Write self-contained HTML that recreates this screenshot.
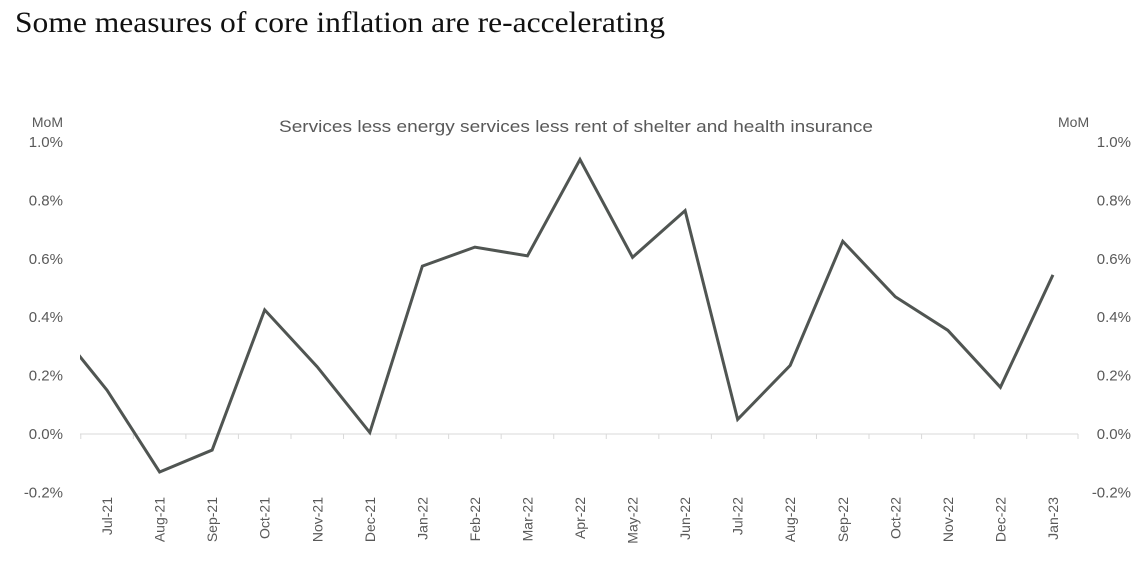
<!DOCTYPE html>
<html><head><meta charset="utf-8"><style>
html,body{margin:0;padding:0;background:#fff;width:1146px;height:569px;overflow:hidden}
svg text{font-family:"Liberation Sans",sans-serif}
</style></head><body>
<svg width="1146" height="569">
<text x="15" y="32" font-size="30" fill="#111" textLength="650" lengthAdjust="spacingAndGlyphs" style="font-family:'Liberation Serif',serif">Some measures of  core inflation are re-accelerating</text>
<text x="576" y="132" font-size="17" fill="#595959" text-anchor="middle" textLength="594" lengthAdjust="spacingAndGlyphs">Services less energy services less rent of shelter and health insurance</text>
<text x="63" y="127" font-size="14" fill="#595959" text-anchor="end">MoM</text>
<text x="1058" y="127" font-size="14" fill="#595959">MoM</text>
<g id="ax"></g>
<defs><clipPath id="cp"><rect x="80" y="100" width="1000" height="420"/></clipPath></defs>
<g id="plot" clip-path="url(#cp)"></g>
</svg>
<script>
const categories=["Jun-21","Jul-21","Aug-21","Sep-21","Oct-21","Nov-21","Dec-21","Jan-22","Feb-22","Mar-22","Apr-22","May-22","Jun-22","Jul-22","Aug-22","Sep-22","Oct-22","Nov-22","Dec-22","Jan-23"];
const values=[0.373,0.15,-0.13,-0.055,0.425,0.23,0.005,0.575,0.64,0.61,0.94,0.605,0.765,0.05,0.235,0.66,0.47,0.355,0.16,0.545];
const yTicks=[-0.2,0,0.2,0.4,0.6,0.8,1.0];
const NS="http://www.w3.org/2000/svg";
const x0=54.5,step=52.55;
function xs(i){return x0+i*step;}
function ys(v){return 434-v*292;}
const ax=document.getElementById('ax'),plot=document.getElementById('plot');
function mk(tag,attrs,parent){const e=document.createElementNS(NS,tag);for(const k in attrs)e.setAttribute(k,attrs[k]);parent.appendChild(e);return e;}
yTicks.forEach(t=>{
  const l=mk('text',{x:63,y:ys(t)+5,'font-size':15,fill:'#595959','text-anchor':'end'},ax);
  
  
  l.textContent=t.toFixed(1)+'%';
  const r=mk('text',{x:1131,y:ys(t)+5,'font-size':15,fill:'#595959','text-anchor':'end'},ax);
  
  
  r.textContent=t.toFixed(1)+'%';
});
const zl=mk('line',{x1:80,x2:1078,y1:ys(0),y2:ys(0),stroke:'#d9d9d9','stroke-width':1},ax);


categories.forEach((c,i)=>{
  if(i===0)return;
  const tx=xs(i)-step/2;
  const tk=mk('line',{x1:tx,x2:tx,y1:ys(0),y2:ys(0)+5,stroke:'#d9d9d9'},ax);
  
  
  const t=mk('text',{transform:`translate(${xs(i)+5},497) rotate(-90)`,'font-size':14,fill:'#595959','text-anchor':'end'},ax);
  
  
  t.textContent=c;
});
const tk2=mk('line',{x1:1078,x2:1078,y1:ys(0),y2:ys(0)+5,stroke:'#d9d9d9'},ax);


const pl=mk('polyline',{points:values.map((v,i)=>xs(i)+','+ys(v)).join(' '),fill:'none',stroke:'#505552','stroke-width':3,'stroke-linejoin':'miter'},plot);


</script>
</body></html>
